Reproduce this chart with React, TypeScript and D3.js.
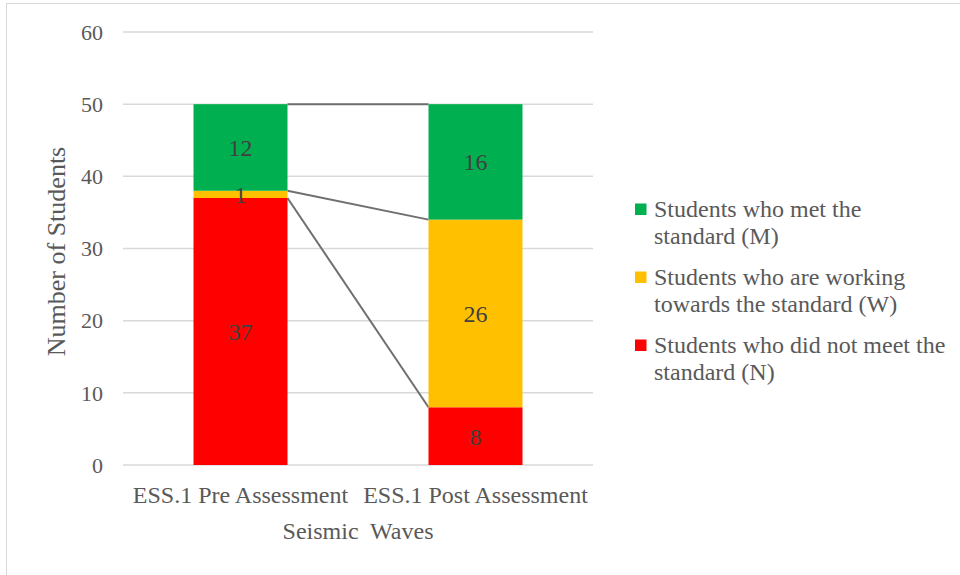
import React from "react";
import * as d3 from "d3";

const categories = ["ESS.1 Pre Assessment", "ESS.1 Post Assessment"];
const seriesNames = [
  "Students who did not meet the standard (N)",
  "Students who are working towards the standard (W)",
  "Students who met the standard (M)",
];
const notMet = [37, 8];
const working = [1, 26];
const met = [12, 16];
const seriesColors = ["#FF0000", "#FFC000", "#00B050"];
const yTicks = [0, 10, 20, 30, 40, 50, 60];
const legendLines = [
  ["Students who met the", "standard (M)"],
  ["Students who are working", "towards the standard (W)"],
  ["Students who did not meet the", "standard (N)"],
];
const legendColors = ["#00B050", "#FFC000", "#FF0000"];
const xTitle = "Seismic  Waves";
const yTitle = "Number of Students";

const W = 960;
const H = 575;
const plot = { left: 123, right: 593, top: 32, bottom: 465 };
const FONT = "'Liberation Serif', 'Times New Roman', serif";
const TEXT = "#595959";

export default function App() {
  const x = d3
    .scaleBand<string>()
    .domain(categories)
    .range([plot.left, plot.right])
    .paddingInner(0.6)
    .paddingOuter(0.3);
  const y = d3.scaleLinear().domain([0, 60]).range([plot.bottom, plot.top]);

  const rows = categories.map((c, i) => ({ cat: c, N: notMet[i], W: working[i], M: met[i] }));
  const stack = d3.stack<any>().keys(["N", "W", "M"]);
  const layers = stack(rows);

  const bw = x.bandwidth();

  return (
    <svg
      width={W}
      height={H}
      style={{ position: "absolute", left: 0, top: 0, background: "#fff" }}
      fontFamily={FONT}
    >
      <rect x={6.5} y={3.5} width={W + 10} height={H + 10} fill="#fff" stroke="#d9d9d9" strokeWidth={1} />

      {/* gridlines and y ticks */}
      {yTicks.map((t) => (
        <g key={t}>
          <line x1={plot.left} x2={plot.right} y1={y(t)} y2={y(t)} stroke="#d9d9d9" strokeWidth={1.5} />
          <text x={103} y={y(t)} dy="0.35em" textAnchor="end" fontSize={22} fill={TEXT}>
            {t}
          </text>
        </g>
      ))}

      {/* series lines between stacked columns */}
      {layers.map((layer, li) => (
        <line
          key={"sl" + li}
          x1={(x(categories[0]) as number) + bw}
          y1={y(layer[0][1])}
          x2={x(categories[1]) as number}
          y2={y(layer[1][1])}
          stroke="#6f6f6f"
          strokeWidth={2}
        />
      ))}

      {/* stacked bars */}
      {layers.map((layer, li) =>
        layer.map((d, i) => (
          <rect
            key={li + "-" + i}
            x={x(categories[i])}
            y={y(d[1])}
            width={bw}
            height={y(d[0]) - y(d[1])}
            fill={seriesColors[li]}
          />
        ))
      )}

      {/* data labels */}
      {layers.map((layer, li) =>
        layer.map((d, i) => (
          <text
            key={"l" + li + "-" + i}
            x={(x(categories[i]) as number) + bw / 2}
            y={y((d[0] + d[1]) / 2)}
            dy="0.35em"
            textAnchor="middle"
            fontSize={24}
            fill="#404040"
          >
            {d[1] - d[0]}
          </text>
        ))
      )}

      {/* category labels */}
      {categories.map((c) => (
        <text
          key={c}
          x={(x(c) as number) + bw / 2}
          y={503}
          textAnchor="middle"
          fontSize={24}
          fill={TEXT}
        >
          {c}
        </text>
      ))}

      <text
        x={(plot.left + plot.right) / 2}
        y={539}
        textAnchor="middle"
        fontSize={24}
        fill={TEXT}
        style={{ whiteSpace: "pre" }}
      >
        {xTitle}
      </text>

      <text
        transform={`translate(65, ${(plot.top + plot.bottom) / 2 + 3}) rotate(-90)`}
        textAnchor="middle"
        fontSize={26}
        fill={TEXT}
      >
        {yTitle}
      </text>

      {/* legend */}
      {legendLines.map((lines, i) => {
        const baseline = 217 + i * 68;
        return (
          <g key={"lg" + i} aria-label={seriesNames[2 - i]}>
            <rect x={635} y={baseline - 13.5} width={11.5} height={11.5} fill={legendColors[i]} />
            {lines.map((ln, j) => (
              <text key={j} x={654} y={baseline + j * 27} fontSize={24} fill={TEXT}>
                {ln}
              </text>
            ))}
          </g>
        );
      })}
    </svg>
  );
}
